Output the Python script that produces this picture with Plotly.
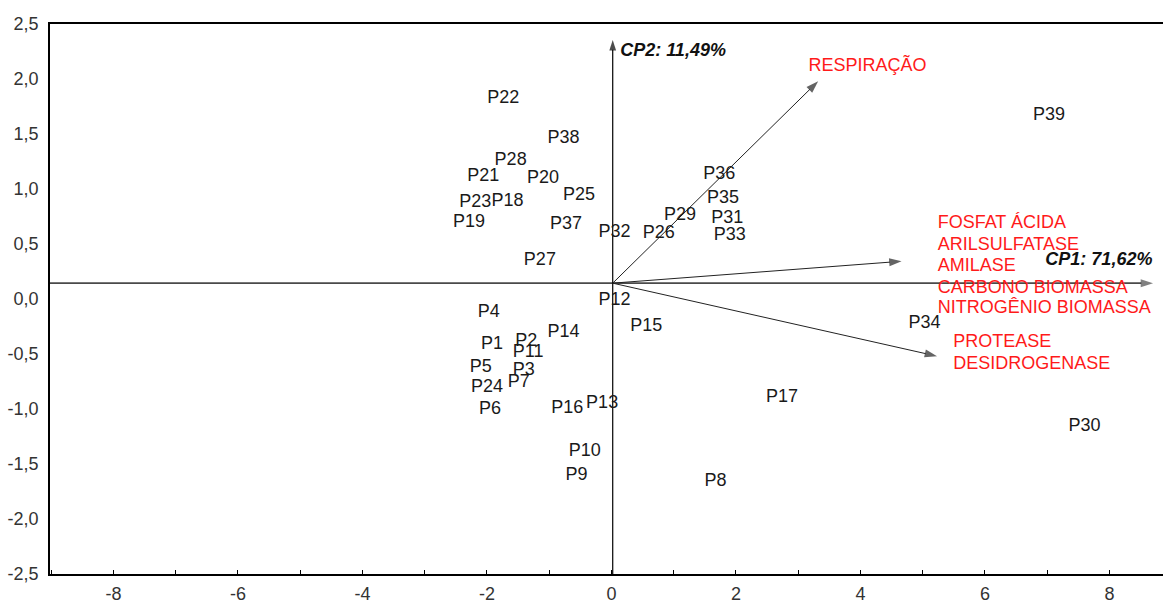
import plotly.graph_objects as go

# ---- data ----
point_labels = ["P1","P2","P3","P4","P5","P6","P7","P8","P9","P10","P11","P12","P13","P14",
                "P15","P16","P17","P18","P19","P20","P21","P22","P23","P24","P25","P26","P27",
                "P28","P29","P30","P31","P32","P33","P34","P35","P36","P37","P38","P39"]
point_x = [-1.92,-1.37,-1.41,-1.97,-2.10,-1.95,-1.49,1.67,-0.56,-0.43,-1.34,0.05,-0.15,-0.77,
           0.56,-0.71,2.74,-1.67,-2.29,-1.10,-2.06,-1.74,-2.19,-2.00,-0.52,0.76,-1.15,
           -1.62,1.10,7.60,1.86,0.05,1.90,5.03,1.79,1.73,-0.73,-0.77,7.03]
point_y = [-0.415,-0.385,-0.647,-0.12,-0.625,-1.002,-0.761,-1.663,-1.604,-1.384,-0.49,-0.01,-0.948,-0.30,
           -0.25,-0.993,-0.896,0.884,0.692,1.095,1.113,1.826,0.873,-0.806,0.945,0.593,0.352,
           1.261,0.758,-1.158,0.728,0.602,0.578,-0.22,0.918,1.134,0.674,1.456,1.67]

vector_x = [3.32, 4.66, 5.23]
vector_y = [1.98, 0.343, -0.52]
origin_x, origin_y = 0.02, 0.144

var_labels = ["RESPIRAÇÃO", "FOSFAT ÁCIDA", "ARILSULFATASE", "AMILASE", "CARBONO BIOMASSA",
              "NITROGÊNIO BIOMASSA", "PROTEASE", "DESIDROGENASE"]
var_label_x = [3.165, 5.24, 5.24, 5.24, 5.24, 5.24, 5.49, 5.49]
var_label_y = [2.112, 0.686, 0.487, 0.292, 0.099, -0.090, -0.394, -0.596]

axis_names = ["CP1: 71,62%", "CP2: 11,49%"]
axis_name_x = [6.97, 0.14]
axis_name_y = [0.352, 2.247]
cp1_tip_x = 8.70
cp2_tip_y = 2.355

x_range = [-9.02, 8.86]
y_range = [-2.5, 2.5]
x_ticks = [-8, -6, -4, -2, 0, 2, 4, 6, 8]
x_tick_labels = ["-8", "-6", "-4", "-2", "0", "2", "4", "6", "8"]
y_ticks = [-2.5, -2.0, -1.5, -1.0, -0.5, 0.0, 0.5, 1.0, 1.5, 2.0, 2.5]
y_tick_labels = ["-2,5", "-2,0", "-1,5", "-1,0", "-0,5", "0,0", "0,5", "1,0", "1,5", "2,0", "2,5"]

FONT = "Liberation Sans, Arial, sans-serif"

fig = go.Figure()


def arrow_trace(xs, ys, color, width, head):
    return go.Scatter(
        x=xs, y=ys, mode="lines+markers",
        line=dict(color=color, width=width),
        marker=dict(symbol=["circle", "arrow"], size=[0, head], angleref="previous",
                    color=color, line=dict(width=0)),
        hoverinfo="skip", showlegend=False, cliponaxis=False)


# principal component axes
fig.add_trace(arrow_trace([x_range[0], cp1_tip_x], [origin_y, origin_y], "#4a4a4a", 1.6, 13))
fig.add_trace(arrow_trace([origin_x, origin_x], [y_range[0], cp2_tip_y], "#000000", 1.2, 11))

# variable vectors
for vx, vy in zip(vector_x, vector_y):
    fig.add_trace(arrow_trace([origin_x, vx], [origin_y, vy], "#222222", 1, 13))

fig.add_trace(go.Scatter(
    x=point_x, y=point_y, mode="text", text=point_labels,
    textposition="middle center",
    textfont=dict(family=FONT, size=18, color="#1a1a1a"),
    hoverinfo="skip", showlegend=False, cliponaxis=False))

fig.add_trace(go.Scatter(
    x=var_label_x, y=var_label_y, mode="text", text=var_labels,
    textposition="middle right",
    textfont=dict(family=FONT, size=18, color="#ff1a1a"),
    hoverinfo="skip", showlegend=False, cliponaxis=False))

fig.add_trace(go.Scatter(
    x=axis_name_x, y=axis_name_y, mode="text",
    text=["<b><i>" + t + "</i></b>" for t in axis_names],
    textposition="middle right",
    textfont=dict(family=FONT, size=18, color="#111111"),
    hoverinfo="skip", showlegend=False, cliponaxis=False))

fig.update_layout(
    width=1163, height=604,
    margin=dict(l=50, r=0, t=24, b=24),
    paper_bgcolor="white", plot_bgcolor="white",
    showlegend=False,
    font=dict(family=FONT, size=18, color="#333333"),
)
fig.update_xaxes(
    range=x_range, showgrid=False, zeroline=False,
    showline=True, linecolor="#000000", linewidth=1.5, mirror=True,
    tickmode="array", tickvals=x_ticks, ticktext=x_tick_labels,
    ticks="inside", ticklen=4, tickcolor="#000000", tickwidth=1,
    minor=dict(dtick=1, tick0=0, ticks="inside", ticklen=4, tickcolor="#000000", showgrid=False),
    tickfont=dict(family=FONT, size=18, color="#333333"),
    ticklabelstandoff=3,
)
fig.update_yaxes(
    range=y_range, showgrid=False, zeroline=False,
    showline=True, linecolor="#000000", linewidth=1.5, mirror=False,
    tickmode="array", tickvals=y_ticks, ticktext=y_tick_labels,
    ticks="", tickfont=dict(family=FONT, size=18, color="#333333"),
    ticklabelstandoff=6,
)

fig.write_html("out.html", config={"displayModeBar": False},
               post_script="document.body.style.margin='0px';document.body.style.overflow='hidden';")
